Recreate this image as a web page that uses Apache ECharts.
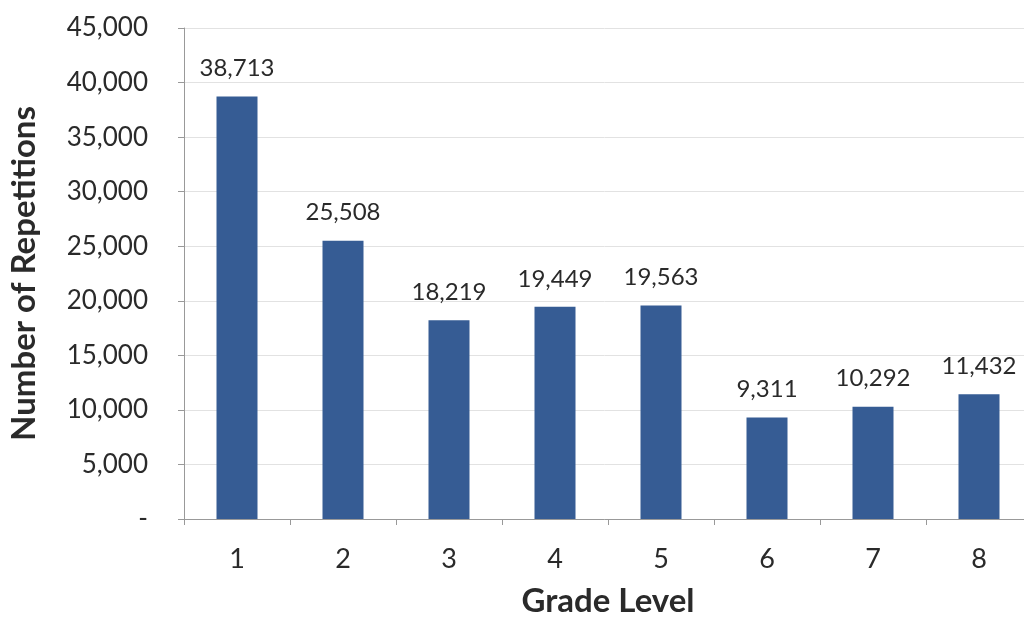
<!DOCTYPE html>
<html><head><meta charset="utf-8">
<script src="https://cdn.jsdelivr.net/npm/echarts@6/dist/echarts.min.js"></script>
<style>html,body{margin:0;padding:0;background:#fff}#c{width:1024px;height:617px}</style>
</head><body><div id="c"></div>
<script>
const categories = ['1','2','3','4','5','6','7','8'];
const repetitions = [38713, 25508, 18219, 19449, 19563, 9311, 10292, 11432];
const yTicks = [0, 5000, 10000, 15000, 20000, 25000, 30000, 35000, 40000, 45000];

const fmt = v => v === 0 ? '-' : v.toLocaleString('en-US');
const chart = echarts.init(document.getElementById('c'));
chart.setOption({
  animation: false,
  textStyle: { fontFamily: 'Lato' },
  grid: { left: 184, top: 28, width: 848, bottom: 98, containLabel: false, outerBoundsMode: 'none' },
  xAxis: {
    type: 'category', data: categories,
    name: 'Grade Level', nameLocation: 'middle', nameGap: 66,
    nameTextStyle: { fontSize: 33, fontWeight: 'bold', color: '#2a2a2a' },
    axisLine: { lineStyle: { color: '#999' } },
    axisTick: { show: true, length: 6, lineStyle: { color: '#999' } },
    axisLabel: { fontSize: 27, color: '#2a2a2a', margin: 27 }
  },
  yAxis: {
    type: 'value', min: yTicks[0], max: yTicks[yTicks.length-1], interval: 5000,
    name: 'Number of Repetitions', nameLocation: 'middle', nameGap: 143,
    nameTextStyle: { fontSize: 33, fontWeight: 'bold', color: '#2a2a2a' },
    axisLine: { show: true, lineStyle: { color: '#999' } },
    axisTick: { show: true, length: 6, lineStyle: { color: '#999' } },
    splitLine: { lineStyle: { color: '#e2e2e2' } },
    axisLabel: { fontSize: 26, color: '#2a2a2a', margin: 36, formatter: fmt }
  },
  series: [{
    type: 'bar', data: repetitions, barWidth: 41,
    itemStyle: { color: '#365C94' },
    label: { show: true, position: 'top', distance: 16, fontSize: 24, color: '#2a2a2a', formatter: p => fmt(p.value) }
  }]
});
</script></body></html>
